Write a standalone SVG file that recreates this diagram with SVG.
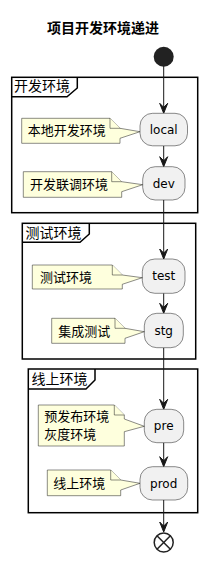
<svg xmlns="http://www.w3.org/2000/svg" width="207" height="562" viewBox="0 0 207 562">
<defs>
<style>
.node{fill:#F1F1F1;stroke:#181818;stroke-width:0.5}
.note{fill:#FEFFDD;stroke:#181818;stroke-width:0.5}
.part{fill:none;stroke:#000;stroke-width:1.5}
.lbl{font-family:"DejaVu Sans","Noto Sans CJK SC",sans-serif;font-size:12px;fill:#000;text-anchor:middle}
.ntxt{font-family:"Noto Sans CJK SC",sans-serif;font-size:13px;fill:#000}
.ptxt{font-family:"Noto Sans CJK SC",sans-serif;font-size:14px;fill:#000}
.edge{stroke:#181818;stroke-width:1;fill:none}
.ah{fill:#181818;stroke:#181818;stroke-width:1}
</style>
</defs>
<rect width="207" height="562" fill="#FFFFFF"/>
<text x="103" y="33" font-family="'Noto Sans CJK SC',sans-serif" font-size="14" font-weight="bold" text-anchor="middle">项目开发环境递进</text>

<g id="partition-dev">
<rect class="part" x="11.7" y="77.3" width="186" height="135.4"/>
<path class="part" d="M11.7,96.7 L67,96.7 L77.3,88 L77.3,77.3"/>
<text class="ptxt" x="14" y="91">开发环境</text>
</g>
<g id="partition-test">
<rect class="part" x="22.3" y="223.3" width="173.4" height="135.7"/>
<path class="part" d="M22.3,242.3 L80,242.3 L89.3,234 L89.3,223.3"/>
<text class="ptxt" x="25.5" y="237.5">测试环境</text>
</g>
<g id="partition-online">
<rect class="part" x="28.3" y="369" width="169.4" height="143.7"/>
<path class="part" d="M28.3,389 L86,389 L95,380 L95,369"/>
<text class="ptxt" x="31.5" y="384">线上环境</text>
</g>

<g id="connectors">
<line class="edge" x1="163.7" y1="60" x2="163.7" y2="112"/>
<polygon class="ah" points="159.7,103.3 163.7,113.3 167.7,103.3 163.7,107.3"/>
<line class="edge" x1="163.7" y1="146" x2="163.7" y2="165"/>
<polygon class="ah" points="159.7,156.7 163.7,166.7 167.7,156.7 163.7,160.7"/>
<line class="edge" x1="163.7" y1="200" x2="163.7" y2="258"/>
<polygon class="ah" points="159.7,249 163.7,259 167.7,249 163.7,253"/>
<line class="edge" x1="163.7" y1="293.3" x2="163.7" y2="312"/>
<polygon class="ah" points="159.7,303.3 163.7,313.3 167.7,303.3 163.7,307.3"/>
<line class="edge" x1="163.7" y1="347.7" x2="163.7" y2="408"/>
<polygon class="ah" points="159.7,399.3 163.7,409.3 167.7,399.3 163.7,403.3"/>
<line class="edge" x1="163.7" y1="442.7" x2="163.7" y2="465"/>
<polygon class="ah" points="159.7,456.7 163.7,466.7 167.7,456.7 163.7,460.7"/>
<line class="edge" x1="163.7" y1="500" x2="163.7" y2="531"/>
<polygon class="ah" points="159.7,522 163.7,532 167.7,522 163.7,526"/>
</g>

<g id="start">
<circle cx="163.7" cy="56.7" r="10" fill="#222222"/>
</g>

<g id="local">
<rect class="node" x="140" y="113.3" width="47.5" height="32.5" rx="12.5"/>
<text class="lbl" x="163.7" y="133.7">local</text>
</g>
<g id="note-local">
<path class="note" d="M21.7,118.3 L110,118.3 L120,128.3 L140,131.7 L120,138.3 L120,143.3 L21.7,143.3 Z"/>
<path class="note" d="M110,118.3 L110,128.3 L120,128.3"/>
<text class="ntxt" x="27.7" y="135">本地开发环境</text>
</g>

<g id="dev">
<rect class="node" x="142.7" y="166.7" width="42.3" height="33.3" rx="12.5"/>
<text class="lbl" x="163.7" y="187.5">dev</text>
</g>
<g id="note-dev">
<path class="note" d="M23.3,171.7 L111.7,171.7 L121.7,181.7 L142.7,184.7 L121.7,191.7 L121.7,197.3 L23.3,197.3 Z"/>
<path class="note" d="M111.7,171.7 L111.7,181.7 L121.7,181.7"/>
<text class="ntxt" x="30" y="189">开发联调环境</text>
</g>

<g id="test">
<rect class="node" x="142.3" y="259" width="42.7" height="34.3" rx="12.5"/>
<text class="lbl" x="163.7" y="280.3">test</text>
</g>
<g id="note-test">
<path class="note" d="M32.3,265 L112.3,265 L122.3,275 L142.3,277.7 L122.3,284.3 L122.3,289 L32.3,289 Z"/>
<path class="note" d="M112.3,265 L112.3,275 L122.3,275"/>
<text class="ntxt" x="40" y="281.5">测试环境</text>
</g>

<g id="stg">
<rect class="node" x="144.3" y="313.3" width="39" height="34.4" rx="12.5"/>
<text class="lbl" x="163.7" y="334.7">stg</text>
</g>
<g id="note-stg">
<path class="note" d="M51.7,318.3 L115,318.3 L125,328.3 L144.3,331.7 L125,338.3 L125,343.3 L51.7,343.3 Z"/>
<path class="note" d="M115,318.3 L115,328.3 L125,328.3"/>
<text class="ntxt" x="58.3" y="335.5">集成测试</text>
</g>

<g id="pre">
<rect class="node" x="144.3" y="409.3" width="39.4" height="33.4" rx="12.5"/>
<text class="lbl" x="163.7" y="430.3">pre</text>
</g>
<g id="note-pre">
<path class="note" d="M38.3,405 L114.3,405 L124.3,415 L124.3,419 L144.3,426.3 L124.3,431.7 L124.3,446 L38.3,446 Z"/>
<path class="note" d="M114.3,405 L114.3,415 L124.3,415"/>
<text class="ntxt" x="44.3" y="421" font-size="12.5">预发布环境</text>
<text class="ntxt" x="44.3" y="439.3" font-size="12.5">灰度环境</text>
</g>

<g id="prod">
<rect class="node" x="140" y="466.7" width="47.7" height="33.3" rx="12.5"/>
<text class="lbl" x="163.7" y="487.5">prod</text>
</g>
<g id="note-prod">
<path class="note" d="M47.3,470 L110.7,470 L120.7,480 L140,483.3 L120.7,490 L120.7,495.7 L47.3,495.7 Z"/>
<path class="note" d="M110.7,470 L110.7,480 L120.7,480"/>
<text class="ntxt" x="53.3" y="487.5">线上环境</text>
</g>

<g id="end">
<circle cx="163.7" cy="542.5" r="9.5" fill="#FFFFFF" stroke="#222222" stroke-width="1.5"/>
<line x1="157" y1="535.8" x2="170.4" y2="549.2" stroke="#222222" stroke-width="1.5"/>
<line x1="170.4" y1="535.8" x2="157" y2="549.2" stroke="#222222" stroke-width="1.5"/>
</g>
</svg>
